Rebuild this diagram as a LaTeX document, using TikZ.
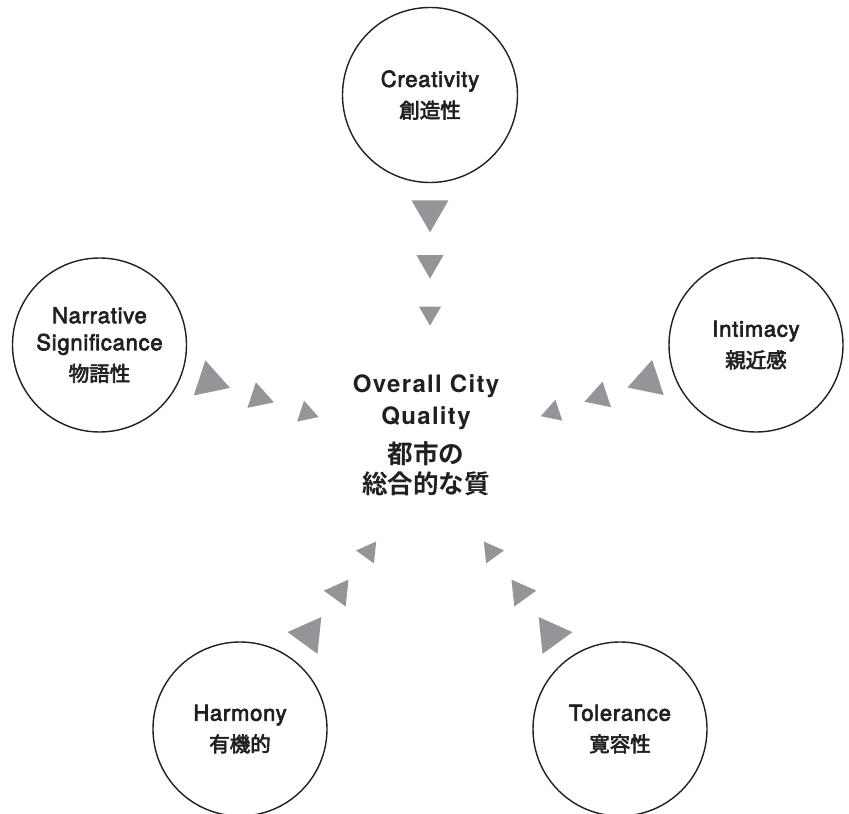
\documentclass[tikz,border=0pt]{standalone}
\usepackage{fontspec}
\setmainfont{TeX Gyre Heros}
\newfontfamily\latc{TeX Gyre Heros}[LetterSpace=3.5,FakeBold=3]
\newfontfamily\latm{TeX Gyre Heros Bold}[LetterSpace=5.5]
\newfontfamily\cjk{Noto Sans CJK JP}[FakeBold=3]
\newfontfamily\cjkb{Noto Sans CJK JP Bold}
\usetikzlibrary{shapes.geometric,calc}
\definecolor{ink}{HTML}{231F20}
\definecolor{tri}{HTML}{939598}
\newcommand\arrowrow[5]{%
  \node[arrowtri,minimum size=42.7pt,rotate=#2-90] (#1a) at ($(#1.center)+(#2:#3)$) {};
  \node[arrowtri,minimum size=31.2pt,rotate=#2-90] (#1b) at ($(#1.center)+(#2:#4)$) {};
  \node[arrowtri,minimum size=25.4pt,rotate=#2-90] (#1c) at ($(#1.center)+(#2:#5)$) {};
}
\begin{document}
\begin{tikzpicture}[x=1pt,y=1pt,
  topic/.style={circle,draw=ink,line width=1.4pt,minimum size=174pt,inner sep=0pt,
    align=center,text=ink,font=\fontsize{22}{27}\selectfont},
  arrowtri/.style={regular polygon,regular polygon sides=3,fill=tri,inner sep=0pt,draw=none}]
\useasboundingbox (0,0) rectangle (849,814);
\node[topic,minimum size=175pt] (cre) at (430,719)
  {{\latc Creativity}\\[4pt]{\cjk\fontsize{20.5}{24}\selectfont 創造性}};
\node[topic] (nar) at (99.5,469)
  {{\latc Narrative}\\{\latc Significance}\\[4pt]{\cjk\fontsize{20.5}{24}\selectfont 物語性}};
\node[topic] (int) at (756,469)
  {{\latc Intimacy}\\[4pt]{\cjk\fontsize{20.5}{24}\selectfont 親近感}};
\node[topic] (har) at (240,85)
  {{\latc Harmony}\\[4pt]{\cjk\fontsize{20.5}{24}\selectfont 有機的}};
\node[topic] (tol) at (620,85)
  {{\latc Tolerance}\\[4pt]{\cjk\fontsize{20.5}{24}\selectfont 寛容性}};
\node[align=center,text=ink,font=\fontsize{24}{32}\selectfont] (core) at (426,379)
  {{\latm Overall City}\\{\latm Quality}\\[7pt]{\cjkb\fontsize{25.6}{30}\selectfont 都市の}\\[-2pt]{\cjkb\fontsize{25.6}{30}\selectfont 総合的な質}};
\arrowrow{cre}{-90}{116}{168}{218}
\arrowrow{nar}{-18.2}{116}{168}{218}
\arrowrow{int}{-161.7}{114}{165}{214}
\arrowrow{har}{54}{117}{169}{219}
\arrowrow{tol}{126}{117}{169}{219}
\end{tikzpicture}
\end{document}
